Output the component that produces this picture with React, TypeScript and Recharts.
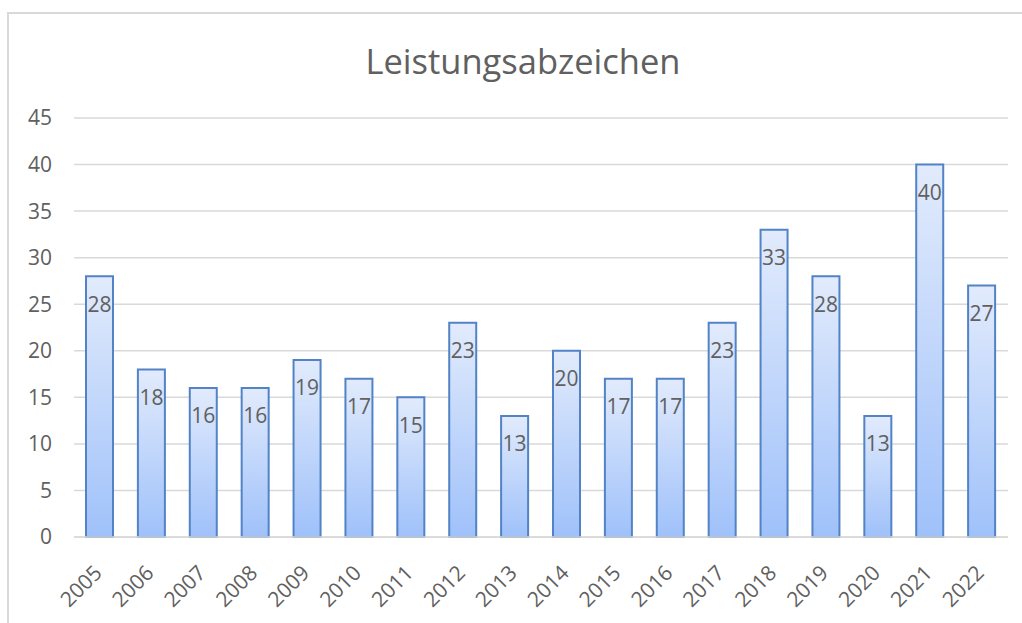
import React from 'react';
import { BarChart, Bar, XAxis, YAxis, CartesianGrid, LabelList } from 'recharts';

const years = ['2005','2006','2007','2008','2009','2010','2011','2012','2013','2014','2015','2016','2017','2018','2019','2020','2021','2022'];
const counts = [28,18,16,16,19,17,15,23,13,20,17,17,23,33,28,13,40,27];
const yTicks = [0,5,10,15,20,25,30,35,40,45];
const title = 'Leistungsabzeichen';

const data = years.map((y, i) => ({ year: y, value: counts[i] }));

const FONT = '"Open Sans", sans-serif';
const TXT = '#606060';

const XTick = (props: any) => {
  const { x, y, payload } = props;
  return (
    <g transform={`translate(${x - 2},${y + 24})`}>
      <text x={0} y={0} dy="0.35em" textAnchor="end" transform="rotate(-45)" fill={TXT} fontSize={21} fontFamily={FONT}>
        {payload.value}
      </text>
    </g>
  );
};

const ValueLabel = (props: any) => {
  const { x, y, width, value } = props;
  return (
    <text x={x + width / 2} y={y + 28} dy="0.35em" textAnchor="middle" fill={TXT} fontSize={21} fontFamily={FONT}>
      {value}
    </text>
  );
};

export default function App() {
  return (
    <div style={{ position: 'fixed', left: 0, top: 0, width: 1022, height: 623, overflow: 'hidden', background: '#fff' }}>
      <div style={{ position: 'absolute', left: 7, top: 12, width: 1100, height: 700, border: '2px solid #d9d9d9', boxSizing: 'border-box' }} />
      <div style={{ position: 'absolute', left: 0, top: 0 }}>
        <BarChart width={1022} height={623} data={data} margin={{ top: 118, right: 14, bottom: 26, left: 14 }} barSize={27}>
          <defs>
            <linearGradient id="barGrad" x1="0" y1="0" x2="0" y2="1">
              <stop offset="0%" stopColor="#e2ebfc" />
              <stop offset="100%" stopColor="#9fc1fa" />
            </linearGradient>
          </defs>
          <text x={523} y={60} textAnchor="middle" dominantBaseline="central" fill={TXT} fontSize={34.5} fontFamily={FONT}>{title}</text>
          <CartesianGrid vertical={false} stroke="#d9d9d9" strokeWidth={1.5} />
          <XAxis dataKey="year" height={60} tickLine={false} axisLine={{ stroke: '#d9d9d9', strokeWidth: 1.5 }} tick={<XTick />} interval={0} />
          <YAxis width={60} domain={[0, 45]} ticks={yTicks} tickLine={false} axisLine={false} tickSize={0} tickMargin={22}
            tick={{ fill: TXT, fontSize: 21, fontFamily: FONT }} />
          <Bar dataKey="value" fill="url(#barGrad)" stroke="#5283c6" strokeWidth={2} isAnimationActive={false}>
            <LabelList dataKey="value" content={<ValueLabel />} />
          </Bar>
        </BarChart>
      </div>
    </div>
  );
}
